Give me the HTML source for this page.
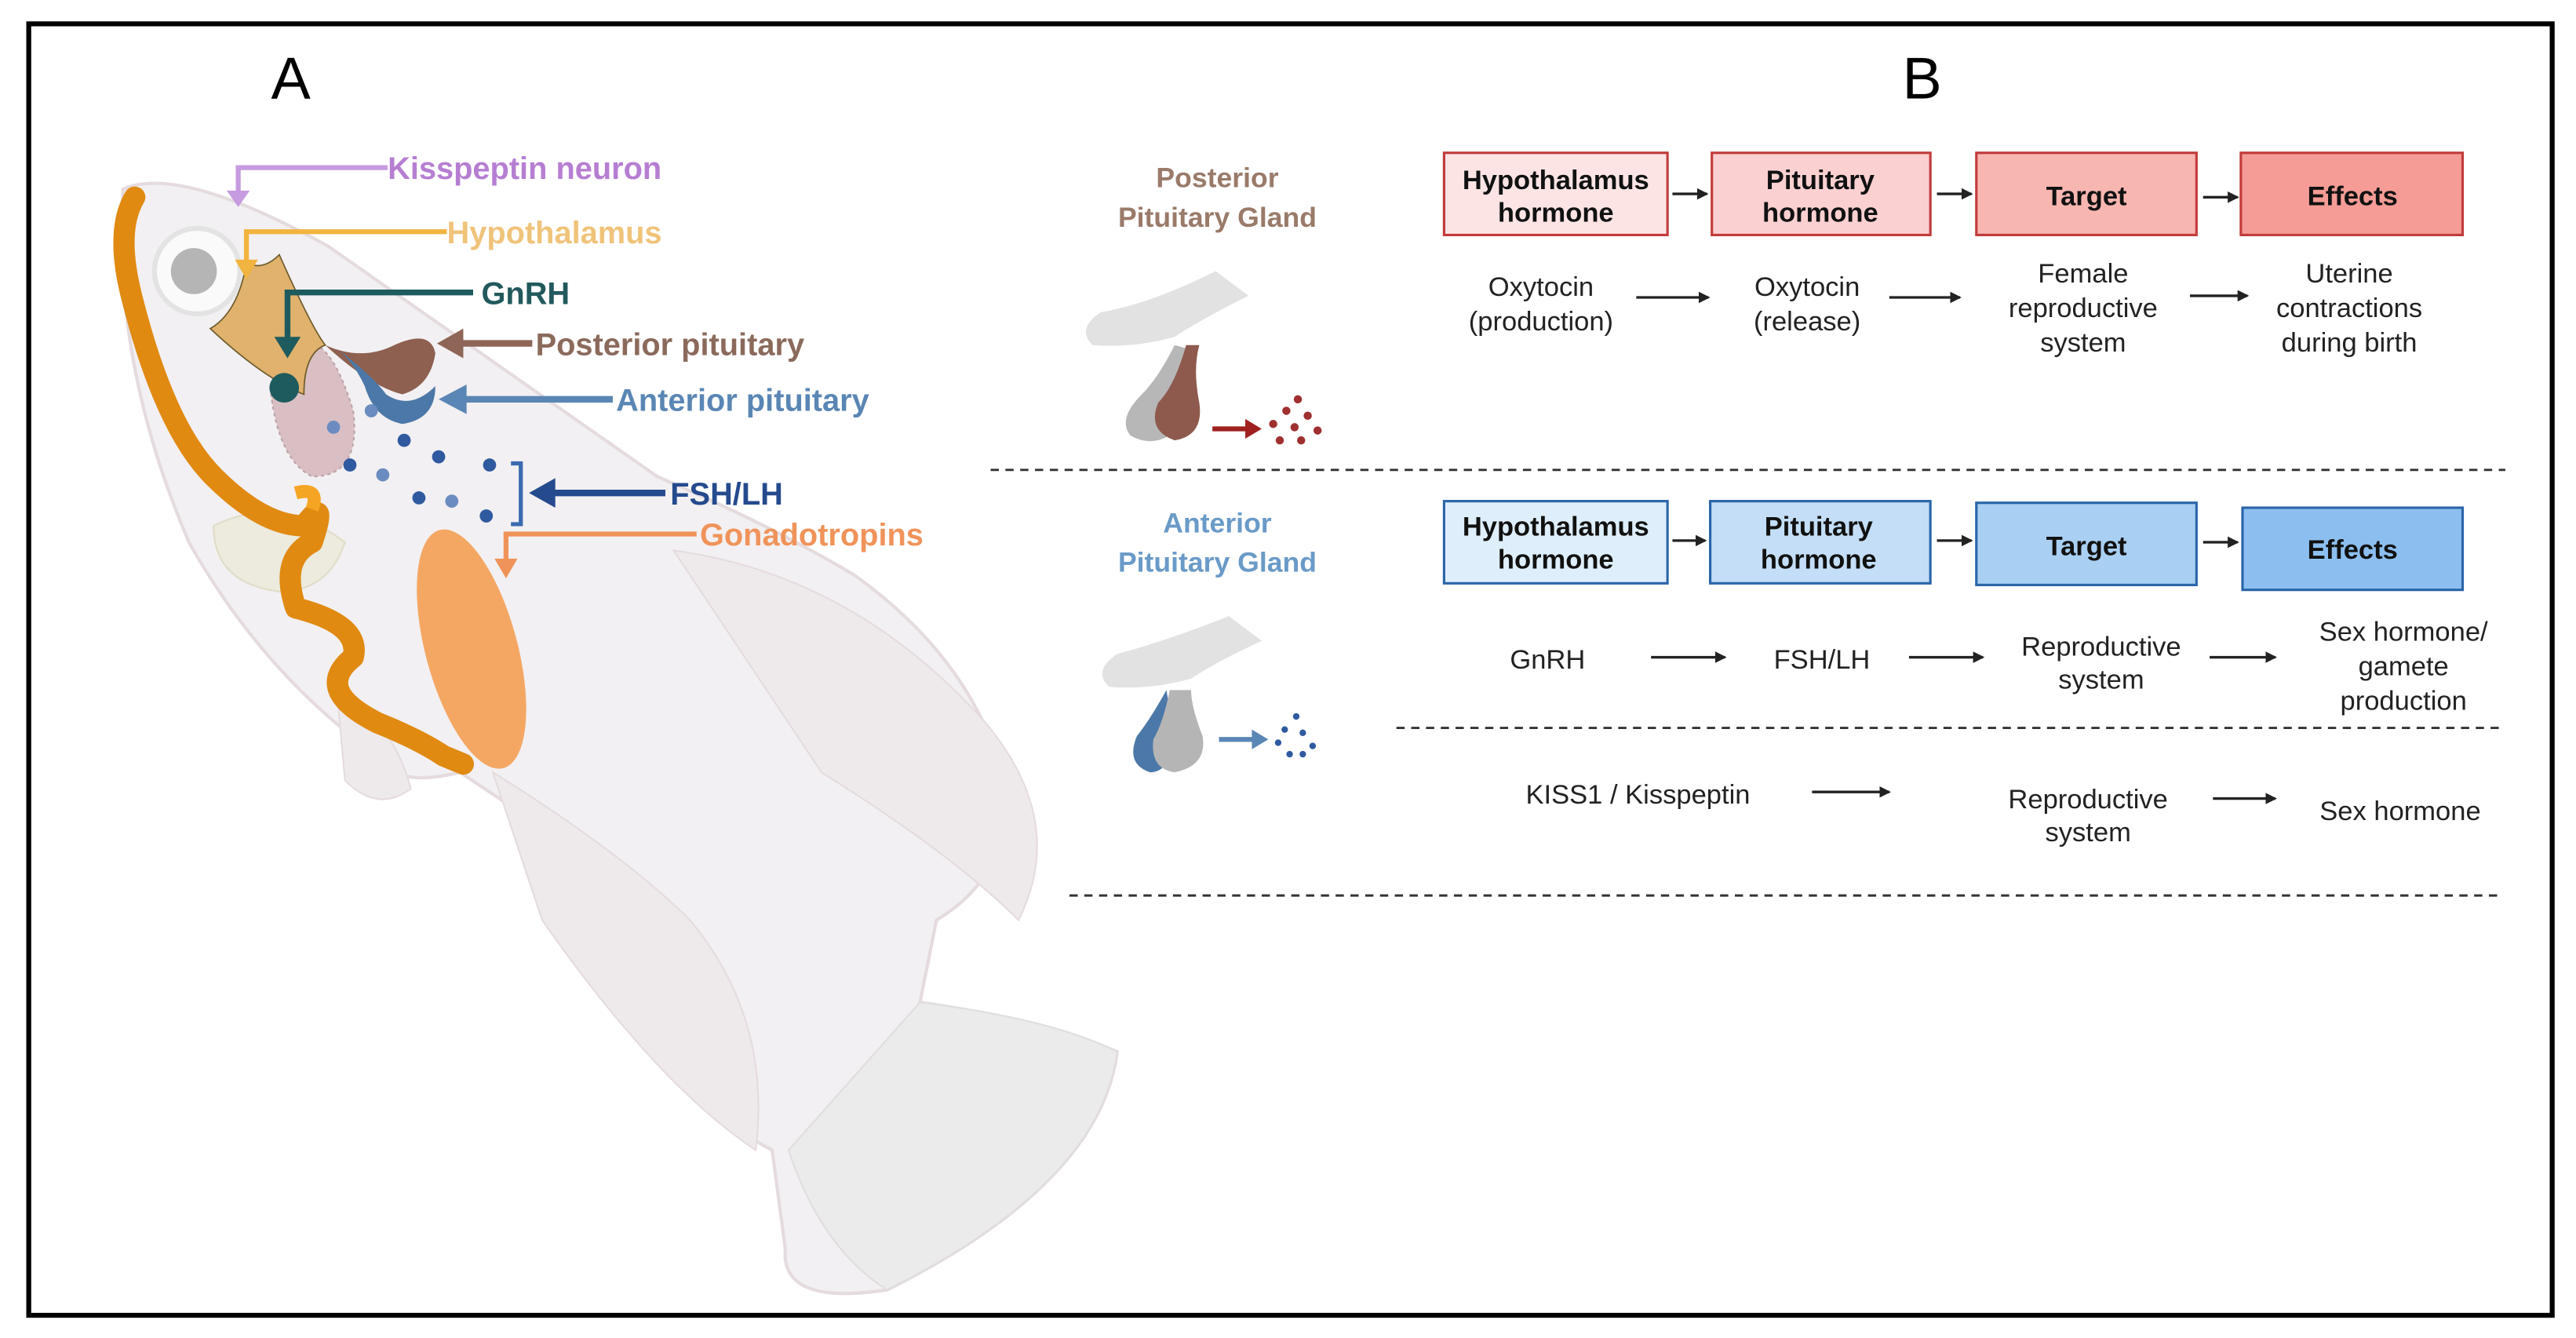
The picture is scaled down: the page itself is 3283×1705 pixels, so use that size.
<!DOCTYPE html>
<html><head><meta charset="utf-8">
<style>
html,body{margin:0;padding:0;background:#fff;}
svg{display:block;}
text{font-family:"Liberation Sans","DejaVu Sans",sans-serif;}
</style></head>
<body>
<svg width="3283" height="1705" viewBox="0 0 1568 814.3" xmlns="http://www.w3.org/2000/svg">
<defs>
<marker id="ak" markerWidth="8" markerHeight="8" refX="6" refY="4" orient="auto" markerUnits="userSpaceOnUse"><path d="M0,0.5 L7,4 L0,7.5Z" fill="#222"/></marker>
</defs>
<rect x="0" y="0" width="1568" height="814.3" fill="#fff"/>
<rect x="17.5" y="14.5" width="1536" height="786" fill="none" stroke="#000" stroke-width="3"/>
<text x="177" y="60" font-size="36" text-anchor="middle">A</text>
<text x="1170" y="60" font-size="36" text-anchor="middle">B</text>

<!-- fish -->
<g>
<path d="M75,115 Q110,100 200,150 L400,290 Q470,320 520,350 Q590,400 610,470 Q620,530 570,560 L560,610 Q630,620 680,640 Q670,720 540,785 Q475,795 478,760 L470,700 Q430,680 400,620 Q360,560 310,490 L280,470 Q240,480 230,460 Q160,410 115,330 Q68,220 75,115Z" fill="#f2f0f2" stroke="#e5dbdf" stroke-width="2"/>
<path d="M410,335 Q520,350 600,440 Q650,500 620,560 Q580,520 500,470Z" fill="#eeeaec" stroke="#e5dbdf"/>
<path d="M300,470 Q380,520 420,560 Q470,620 460,700 Q400,660 330,560Z" fill="#eeeaec" stroke="#e5dbdf"/>
<path d="M560,610 Q640,620 680,640 Q670,720 540,785 Q500,760 480,700Z" fill="#ebebeb" stroke="#e0dddd"/>
<path d="M130,320 Q170,300 210,330 Q200,360 170,360 Q130,355 130,320Z" fill="#ecebdd" stroke="#e0dcc8"/>
<path d="M205,420 Q240,440 250,480 Q230,495 210,475Z" fill="#eeeaec" stroke="#e5dbdf"/>
<circle cx="120" cy="165" r="26" fill="#fafafa" stroke="#e3e3e3" stroke-width="3"/>
<circle cx="118" cy="165" r="14" fill="#b5b5b5"/>
<!-- pink region -->
<path d="M180,210 Q200,200 215,250 Q220,290 190,290 Q170,280 165,240Z" fill="#d9bfc3" stroke="#bca2a7" stroke-dasharray="2 2"/>
<!-- hypothalamus -->
<path d="M150,160 Q160,165 170,155 Q190,200 198,210 Q185,215 185,240 Q160,230 128,200 Q145,190 150,160Z" fill="#e0b26e" stroke="#6b5a2a" stroke-width="0.8"/>
<circle cx="173" cy="236" r="9" fill="#1e5b5e"/>
<!-- pituitaries -->
<path d="M198,210 Q220,220 240,210 Q262,200 265,215 Q262,235 245,240 Q225,235 198,210Z" fill="#8e6050"/>
<path d="M205,212 Q228,230 235,240 Q250,250 265,235 Q265,255 245,258 Q228,255 222,235 Q215,220 205,212Z" fill="#4b78a8"/>
<!-- dots -->
<g fill="#2f5aa0">
<circle cx="203" cy="260" r="4" fill="#6b8cc0"/><circle cx="226" cy="250" r="4" fill="#6b8cc0"/><circle cx="213" cy="283" r="4"/><circle cx="246" cy="268" r="4"/><circle cx="267" cy="278" r="4"/><circle cx="233" cy="289" r="4" fill="#6b8cc0"/><circle cx="255" cy="303" r="4"/><circle cx="275" cy="305" r="4" fill="#6b8cc0"/><circle cx="298" cy="283" r="4"/><circle cx="296" cy="314" r="4"/>
</g>
<!-- orange duct -->
<path d="M82,120 Q70,140 80,180 Q100,260 130,290 Q160,320 185,320 Q200,300 190,330 Q170,340 180,370 Q220,380 215,400 Q190,420 230,440 Q255,450 270,460 L282,465" fill="none" stroke="#e08a12" stroke-width="13" stroke-linecap="round" stroke-linejoin="round"/>
<path d="M180,300 Q195,296 190,310" fill="none" stroke="#f5a524" stroke-width="8"/>
<!-- gonad -->
<ellipse cx="287" cy="395" rx="28" ry="75" transform="rotate(-15 287 395)" fill="#f59a4a" opacity="0.85"/>
</g>

<!-- labels A -->
<g font-weight="bold" font-size="19">
<polyline points="236,102 145,102 145,118" fill="none" stroke="#c79be0" stroke-width="3"/><path d="M138,116 L152,116 L145,126Z" fill="#c79be0"/>
<text x="236" y="109" fill="#b67ed2">Kisspeptin neuron</text>
<polyline points="272,141 150,141 150,160" fill="none" stroke="#f2b440" stroke-width="3"/><path d="M143,158 L157,158 L150,170Z" fill="#f2b440"/>
<text x="272" y="148" fill="#f0c37a">Hypothalamus</text>
<polyline points="288,178 175,178 175,208" fill="none" stroke="#1e5b5e" stroke-width="3.5"/><path d="M167,205 L183,205 L175,218Z" fill="#1e5b5e"/>
<text x="293" y="185" fill="#22595c">GnRH</text>
<line x1="324" y1="209" x2="278" y2="209" stroke="#8e6556" stroke-width="4"/><path d="M282,200 L282,218 L266,209Z" fill="#8e6556"/>
<text x="326" y="216" fill="#8b6a5c">Posterior pituitary</text>
<line x1="373" y1="243" x2="280" y2="243" stroke="#5a86b5" stroke-width="4"/><path d="M284,234 L284,252 L267,243Z" fill="#5a86b5"/>
<text x="375" y="250" fill="#5a86b5">Anterior  pituitary</text>
<line x1="405" y1="300" x2="335" y2="300" stroke="#254a8e" stroke-width="4"/><path d="M338,291 L338,309 L322,300Z" fill="#254a8e"/>
<polyline points="311,282 317,282 317,319 311,319" fill="none" stroke="#3a6ab0" stroke-width="2.5"/>
<text x="408" y="307" fill="#254a8e">FSH/LH</text>
<polyline points="424,325 308,325 308,342" fill="none" stroke="#f0935a" stroke-width="3"/><path d="M301,340 L315,340 L308,352Z" fill="#f0935a"/>
<text x="426" y="332" fill="#f0935a">Gonadotropins</text>
</g>

<!-- B section -->
<g font-weight="bold" font-size="17" text-anchor="middle">
<text x="741" y="114" fill="#9a7a6a">Posterior</text>
<text x="741" y="138" fill="#9a7a6a">Pituitary Gland</text>
<text x="741" y="324" fill="#6a9ac8">Anterior</text>
<text x="741" y="348" fill="#6a9ac8">Pituitary Gland</text>
</g>

<!-- posterior icon -->
<g>
<path d="M740,165 Q700,185 670,190 Q655,200 665,210 Q690,212 715,205 Q730,195 760,180Z" fill="#e2e2e2"/>
<path d="M715,210 Q705,230 695,240 Q680,255 688,265 Q700,272 712,265 Q720,240 722,212Z" fill="#b7b7b7"/>
<path d="M722,210 Q715,235 705,245 Q698,262 715,268 Q733,265 730,245 Q726,225 730,210Z" fill="#8e5a4e"/>
<line x1="738" y1="261" x2="760" y2="261" stroke="#a02020" stroke-width="3"/><path d="M758,255 L768,261 L758,267Z" fill="#a02020"/>
<g fill="#a03030"><circle cx="790" cy="243" r="2.5"/><circle cx="783" cy="250" r="2.5"/><circle cx="796" cy="253" r="2.5"/><circle cx="775" cy="258" r="2.5"/><circle cx="788" cy="260" r="2.5"/><circle cx="802" cy="262" r="2.5"/><circle cx="779" cy="268" r="2.5"/><circle cx="792" cy="268" r="2.5"/></g>
</g>
<!-- anterior icon -->
<g>
<path d="M748,375 Q710,390 680,398 Q665,408 675,418 Q700,420 725,413 Q740,403 768,390Z" fill="#e2e2e2"/>
<path d="M710,420 Q700,438 692,448 Q685,465 700,470 Q712,470 715,450Z" fill="#4b78a8"/>
<path d="M712,420 Q708,440 702,450 Q700,468 715,470 Q735,466 732,448 Q725,430 725,420Z" fill="#b5b5b5"/>
<line x1="742" y1="450" x2="764" y2="450" stroke="#5a86b5" stroke-width="3"/><path d="M762,444 L772,450 L762,456Z" fill="#5a86b5"/>
<g fill="#2f5aa0"><circle cx="789" cy="436" r="2"/><circle cx="782" cy="444" r="2"/><circle cx="793" cy="446" r="2"/><circle cx="778" cy="452" r="2"/><circle cx="799" cy="454" r="2"/><circle cx="785" cy="459" r="2"/><circle cx="793" cy="459" r="2"/></g>
</g>

<!-- boxes top -->
<g stroke="#c23b3b" stroke-width="1.5">
<rect x="879" y="93" width="136" height="50" fill="#fde4e4"/>
<rect x="1042" y="93" width="133" height="50" fill="#fbd0d0"/>
<rect x="1203" y="93" width="134" height="50" fill="#f8b6b1"/>
<rect x="1364" y="93" width="135" height="50" fill="#f49c95"/>
</g>
<g stroke="#2a65a8" stroke-width="1.5">
<rect x="879" y="305" width="136" height="50" fill="#deeefb"/>
<rect x="1041" y="305" width="134" height="50" fill="#c4def7"/>
<rect x="1203" y="306" width="134" height="50" fill="#a9cff3"/>
<rect x="1365" y="309" width="134" height="50" fill="#8cbff0"/>
</g>
<g font-weight="bold" font-size="16.5" text-anchor="middle" fill="#111">
<text x="947" y="115">Hypothalamus</text><text x="947" y="135">hormone</text>
<text x="1108" y="115">Pituitary</text><text x="1108" y="135">hormone</text>
<text x="1270" y="125">Target</text>
<text x="1432" y="125">Effects</text>
<text x="947" y="326">Hypothalamus</text><text x="947" y="346">hormone</text>
<text x="1107" y="326">Pituitary</text><text x="1107" y="346">hormone</text>
<text x="1270" y="338">Target</text>
<text x="1432" y="340">Effects</text>
</g>
<g stroke="#222" stroke-width="1.6" marker-end="url(#ak)">
<line x1="1018" y1="118" x2="1039" y2="118"/><line x1="1179" y1="118" x2="1200" y2="118"/><line x1="1341" y1="120" x2="1362" y2="120"/>
<line x1="1018" y1="329" x2="1038" y2="329"/><line x1="1179" y1="329" x2="1200" y2="329"/><line x1="1341" y1="330" x2="1362" y2="330"/>
<line x1="996" y1="181" x2="1040" y2="181"/><line x1="1150" y1="181" x2="1193" y2="181"/><line x1="1333" y1="180" x2="1368" y2="180"/>
<line x1="1005" y1="400" x2="1050" y2="400"/><line x1="1162" y1="400" x2="1207" y2="400"/><line x1="1345" y1="400" x2="1385" y2="400"/>
<line x1="1103" y1="482" x2="1150" y2="482"/><line x1="1347" y1="486" x2="1385" y2="486"/>
</g>
<g font-size="16.5" text-anchor="middle" fill="#222">
<text x="938" y="180">Oxytocin</text><text x="938" y="201">(production)</text>
<text x="1100" y="180">Oxytocin</text><text x="1100" y="201">(release)</text>
<text x="1268" y="172">Female</text><text x="1268" y="193">reproductive</text><text x="1268" y="214">system</text>
<text x="1430" y="172">Uterine</text><text x="1430" y="193">contractions</text><text x="1430" y="214">during birth</text>
<text x="942" y="407">GnRH</text>
<text x="1109" y="407">FSH/LH</text>
<text x="1279" y="399">Reproductive</text><text x="1279" y="419">system</text>
<text x="1463" y="390">Sex hormone/</text><text x="1463" y="411">gamete</text><text x="1463" y="432">production</text>
<text x="997" y="489">KISS1 / Kisspeptin</text>
<text x="1271" y="492">Reproductive</text><text x="1271" y="512">system</text>
<text x="1461" y="499">Sex hormone</text>
</g>
<g stroke="#333" stroke-width="1.4" stroke-dasharray="5 4">
<line x1="603" y1="286" x2="1525" y2="286"/>
<line x1="850" y1="443" x2="1522" y2="443"/>
<line x1="651" y1="545" x2="1520" y2="545"/>
</g>
</svg>
</body></html>
